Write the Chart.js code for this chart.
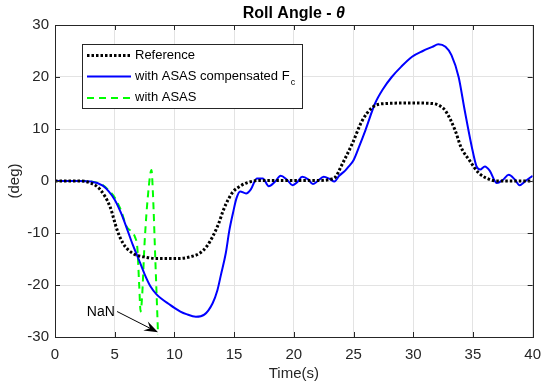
<!DOCTYPE html>
<html lang="en">
<head>
<meta charset="UTF-8">
<title>Roll Angle</title>
<script src="https://cdn.jsdelivr.net/npm/chart.js"></script>
<style>
  html, body { margin: 0; padding: 0; background: #fff; }
  #grafico { display: block; }
</style>
</head>
<body>
<canvas id="grafico" width="550" height="389"></canvas>
<script>
// values: time (s) and roll angle (deg)
const tempoRef  = [0, 2, 3, 3.8, 4.6, 5.2, 5.7, 6.5, 7.7, 8.5, 10.4, 11.3, 12.1, 12.7, 13.2, 13.7, 14.1, 14.5, 14.9, 15.5, 16, 17.1, 22, 23, 23.5, 24, 24.9, 25.7, 26.6, 27.7, 30, 31.6, 32.2, 32.7, 33.5, 34, 34.7, 35.5, 36.5, 37, 40];
const anguloRef = [0, 0, -0.4, -1.7, -4.9, -9.4, -12, -13.9, -14.7, -14.9, -14.9, -14.6, -13.9, -12.6, -10.7, -8.2, -5.6, -3.6, -2.1, -1, -0.4, 0.1, 0.1, 0.3, 0.8, 3, 7.2, 11.5, 14.2, 14.9, 15, 14.9, 14.5, 13.5, 9.8, 6.5, 4, 1.5, 0.2, 0, 0];

const tempoComp  = [0, 2, 3, 4, 4.5, 5, 5.5, 6, 6.5, 7, 7.5, 8, 8.5, 9, 9.5, 10, 10.5, 11, 11.8, 12.5, 13.2, 13.6, 13.9, 14.3, 14.6, 14.9, 15.2, 15.5, 16, 16.4, 16.9, 17.4, 17.9, 18.4, 18.9, 19.4, 19.9, 20.3, 20.7, 21.2, 21.6, 22, 22.5, 23, 23.4, 23.8, 24.3, 24.6, 25, 25.5, 26, 26.8, 27.5, 28.2, 29, 29.9, 30.8, 31.6, 32.1, 32.7, 33.2, 33.8, 34.3, 34.9, 35.3, 35.6, 36, 36.4, 37, 37.5, 38, 38.5, 38.9, 39.4, 40];
const anguloComp = [0, 0, -0.1, -0.9, -2, -3.6, -6, -9, -12.2, -15, -17.9, -20.3, -21.8, -22.8, -23.6, -24.4, -25.1, -25.6, -26.1, -25.7, -23.5, -21, -18, -13.9, -9.5, -6.2, -3.3, -2, -2.4, -1.6, 0.5, 0.5, -1, -0.2, 1, 0.3, -0.8, -0.2, 0.8, 0.3, -0.6, 0, 0.8, 0.4, -0.1, 1, 2, 2.8, 4, 6.8, 9.8, 14.9, 17.8, 20, 22, 23.9, 25, 25.8, 26.3, 25.8, 24.2, 20, 13.7, 6.6, 2.8, 2.2, 2.8, 2, -0.4, 0.2, 1.2, 0.3, -0.8, 0, 1];

const tempoAsas  = [0, 2, 3, 4, 4.5, 5, 5.5, 6, 6.4, 6.7, 6.9, 7.05, 7.17, 7.3, 7.5, 7.8, 8.08, 8.2, 8.4, 8.63];
const anguloAsas = [0, 0, -0.1, -0.8, -1.8, -3.2, -5.5, -8.8, -9.7, -10.8, -13, -20, -25.1, -22, -12, -2.4, 2.1, -2.3, -15, -29.5];

const rotulos = ['Reference', 'with ASAS compensated F', 'with ASAS'];

const fonte = '"Liberation Sans", Arial, Helvetica, sans-serif';
const pontos = (ts, vs) => ts.map((t, i) => ({ x: t, y: vs[i] }));

// frame box and inward tick marks (MATLAB style)
const moldura = {
    id: 'moldura',
    afterDatasetsDraw(chart) {
        const { ctx, chartArea: a, scales: { x, y } } = chart;
        ctx.save();
        ctx.strokeStyle = '#262626';
        ctx.lineWidth = 1;
        ctx.beginPath();
        for (let v = 5; v < 40; v += 5) {
            const px = Math.round(x.getPixelForValue(v)) + 0.5;
            ctx.moveTo(px, a.bottom); ctx.lineTo(px, a.bottom - 5);
            ctx.moveTo(px, a.top); ctx.lineTo(px, a.top + 5);
        }
        for (let v = -20; v < 30; v += 10) {
            const py = Math.round(y.getPixelForValue(v)) + 0.5;
            ctx.moveTo(a.left, py); ctx.lineTo(a.left + 5, py);
            ctx.moveTo(a.right, py); ctx.lineTo(a.right - 5, py);
        }
        ctx.stroke();
        ctx.strokeRect(Math.round(a.left) + 0.5, Math.round(a.top) + 0.5,
            Math.round(a.right - a.left), Math.round(a.bottom - a.top));
        ctx.restore();
    },
    afterDraw(chart) {
        const { ctx, chartArea: a, scales: { x, y } } = chart;
        ctx.save();

        // title
        ctx.fillStyle = '#000';
        ctx.textBaseline = 'middle';
        const t1 = 'Roll Angle - ', t2 = '\u03B8';
        ctx.font = 'bold 16px ' + fonte;
        const w1 = ctx.measureText(t1).width;
        ctx.font = 'italic bold 16px ' + fonte;
        const w2 = ctx.measureText(t2).width;
        let cx = (a.left + a.right) / 2 - (w1 + w2) / 2;
        ctx.textAlign = 'left';
        ctx.font = 'bold 16px ' + fonte;
        ctx.fillText(t1, cx, 14);
        ctx.font = 'italic bold 16px ' + fonte;
        ctx.fillText(t2, cx + w1, 14);

        // legend
        const bx = 82.5, by = 44.5, bw = 220, bh = 64;
        ctx.fillStyle = '#fff';
        ctx.fillRect(bx, by, bw, bh);
        ctx.strokeStyle = '#262626';
        ctx.lineWidth = 1;
        ctx.strokeRect(bx, by, bw, bh);
        const linhasY = [55.5, 76.5, 98];
        chart.data.datasets.forEach((ds, i) => {
            ctx.save();
            ctx.strokeStyle = ds.borderColor;
            ctx.lineWidth = ds.borderWidth;
            ctx.setLineDash(ds.borderDash || []);
            ctx.beginPath();
            ctx.moveTo(87, linhasY[i]);
            ctx.lineTo(131, linhasY[i]);
            ctx.stroke();
            ctx.restore();
            ctx.fillStyle = '#000';
            ctx.font = '13px ' + fonte;
            ctx.textAlign = 'left';
            ctx.textBaseline = 'middle';
            ctx.fillText(rotulos[i], 135, linhasY[i] - 0.5);
            if (i === 1) {
                const wf = ctx.measureText(rotulos[i]).width;
                ctx.font = '9px ' + fonte;
                ctx.fillText('c', 135 + wf + 1, linhasY[i] + 6);
            }
        });

        // NaN note with arrow
        ctx.fillStyle = '#000';
        ctx.font = '14px ' + fonte;
        ctx.textAlign = 'center';
        ctx.fillText('NaN', x.getPixelForValue(3.84), y.getPixelForValue(-25.3));
        const x0 = x.getPixelForValue(5.2), y0 = y.getPixelForValue(-25.1);
        const x1 = x.getPixelForValue(8.63), y1 = y.getPixelForValue(-29.1);
        const ang = Math.atan2(y1 - y0, x1 - x0);
        const c = Math.cos(ang), s = Math.sin(ang);
        ctx.strokeStyle = '#000';
        ctx.lineWidth = 1;
        ctx.beginPath();
        ctx.moveTo(x0, y0);
        ctx.lineTo(x1 - 9 * c, y1 - 9 * s);
        ctx.stroke();
        ctx.beginPath();
        ctx.moveTo(x1, y1);
        ctx.lineTo(x1 - 14 * c + 5 * s, y1 - 14 * s - 5 * c);
        ctx.lineTo(x1 - 9 * c, y1 - 9 * s);
        ctx.lineTo(x1 - 14 * c - 5 * s, y1 - 14 * s + 5 * c);
        ctx.closePath();
        ctx.fill();
        ctx.restore();
    }
};

const grafico = new Chart(document.getElementById('grafico'), {
    type: 'line',
    data: {
        datasets: [
            {
                label: rotulos[0],
                data: pontos(tempoRef, anguloRef),
                borderColor: '#000000',
                borderWidth: 3,
                borderDash: [2.5, 2],
                order: 0
            },
            {
                label: rotulos[1],
                data: pontos(tempoComp, anguloComp),
                borderColor: '#0000ff',
                borderWidth: 2,
                order: 1
            },
            {
                label: rotulos[2],
                data: pontos(tempoAsas, anguloAsas),
                borderColor: '#00ff00',
                borderWidth: 2,
                borderDash: [7, 5],
                order: 2
            }
        ]
    },
    options: {
        responsive: false,
        animation: false,
        layout: { padding: { top: 25, right: 15, left: 0, bottom: 0 } },
        elements: {
            point: { radius: 0 },
            line: { cubicInterpolationMode: 'monotone', fill: false }
        },
        plugins: {
            legend: { display: false },
            tooltip: { enabled: false }
        },
        scales: {
            x: {
                type: 'linear',
                min: 0,
                max: 40,
                afterFit: s => { s.height = 52; },
                ticks: { stepSize: 5, color: '#262626', font: { family: fonte, size: 15 }, padding: 9, maxRotation: 0 },
                grid: { color: '#e3e3e3', drawTicks: false },
                border: { display: false },
                title: { display: true, text: 'Time(s)', color: '#262626', font: { family: fonte, size: 15 }, padding: { top: 0, bottom: 6 } }
            },
            y: {
                min: -30,
                max: 30,
                afterFit: s => { s.width = 55; },
                ticks: { stepSize: 10, color: '#262626', font: { family: fonte, size: 15 }, padding: 6 },
                grid: { color: '#e3e3e3', drawTicks: false },
                border: { display: false },
                title: { display: true, text: '(deg)', color: '#262626', font: { family: fonte, size: 15 }, padding: { top: 6, bottom: 0 } }
            }
        }
    },
    plugins: [moldura]
});
</script>
</body>
</html>
